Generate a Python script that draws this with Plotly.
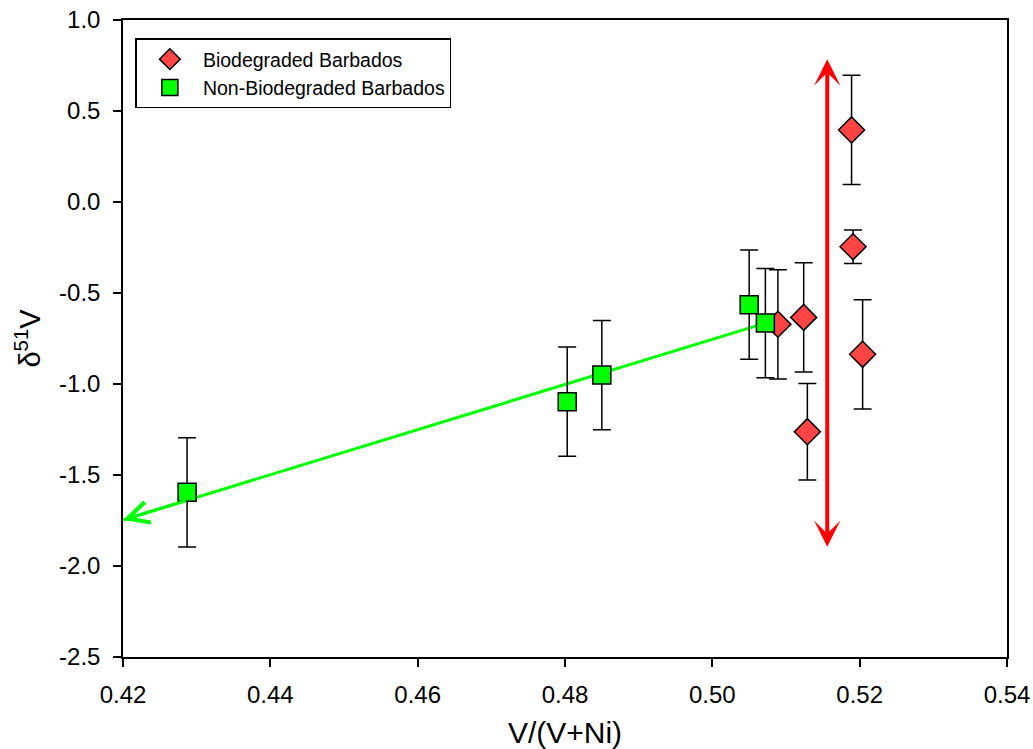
import plotly.graph_objects as go

# ---- data ----
bio_x = [0.5089, 0.5124, 0.5129, 0.5189, 0.5191, 0.5204]
bio_y = [-0.672, -0.634, -1.262, 0.396, -0.246, -0.837]
bio_err = [0.30, 0.30, 0.265, 0.30, 0.092, 0.30]

non_x = [0.4287, 0.4803, 0.4850, 0.5050, 0.5072]
non_y = [-1.595, -1.097, -0.951, -0.564, -0.665]
non_err = [0.30, 0.30, 0.30, 0.30, 0.30]

# green trend arrow (start at last green point, tip at left axis)
green_arrow_x = [0.5072, 0.4200]
green_arrow_y = [-0.665, -1.747]
# red double-headed arrow
red_arrow_x = [0.5156, 0.5156]
red_arrow_y = [0.784, -1.903]

x_ticks = [0.42, 0.44, 0.46, 0.48, 0.50, 0.52, 0.54]
x_ticktext = ["0.42", "0.44", "0.46", "0.48", "0.50", "0.52", "0.54"]
y_ticks = [1.0, 0.5, 0.0, -0.5, -1.0, -1.5, -2.0, -2.5]
y_ticktext = ["1.0", "0.5", "0.0", "-0.5", "-1.0", "-1.5", "-2.0", "-2.5"]

FONT = "Liberation Sans, Arial, sans-serif"

fig = go.Figure()

# green trend line drawn beneath the markers
fig.add_trace(go.Scatter(
    x=green_arrow_x, y=green_arrow_y, mode="lines",
    line=dict(color="#00FF00", width=3), showlegend=False, hoverinfo="skip"))

fig.add_trace(go.Scatter(
    x=bio_x, y=bio_y, mode="markers", name="Biodegraded Barbados",
    marker=dict(symbol="diamond", size=20, color="#FF4444",
                line=dict(color="black", width=1.5)),
    error_y=dict(type="data", array=bio_err, color="black", thickness=1.5, width=9)))

fig.add_trace(go.Scatter(
    x=non_x, y=non_y, mode="markers", name="Non-Biodegraded Barbados",
    marker=dict(symbol="square", size=18, color="#00FF00",
                line=dict(color="black", width=1.5)),
    error_y=dict(type="data", array=non_err, color="black", thickness=1.5, width=9)))

# arrowhead at the green line tip
dx = green_arrow_x[0] - green_arrow_x[1]
dy = green_arrow_y[0] - green_arrow_y[1]
fig.add_annotation(
    x=green_arrow_x[1], y=green_arrow_y[1],
    ax=green_arrow_x[1] + 0.1 * dx, ay=green_arrow_y[1] + 0.1 * dy,
    xref="x", yref="y", axref="x", ayref="y", text="",
    showarrow=True, arrowhead=5, arrowsize=1.4, arrowwidth=3,
    arrowcolor="#00FF00", standoff=0)

# red double arrow
fig.add_annotation(
    x=red_arrow_x[0], y=red_arrow_y[0],
    ax=red_arrow_x[1], ay=red_arrow_y[1],
    xref="x", yref="y", axref="x", ayref="y", text="",
    showarrow=True, arrowhead=3, startarrowhead=3, arrowside="end+start",
    arrowsize=1.1, startarrowsize=1.1, arrowwidth=4,
    arrowcolor="#FF0000", standoff=0, startstandoff=0)

fig.update_layout(
    width=1033, height=749,
    margin=dict(l=123, r=26, t=20, b=92, autoexpand=False),
    paper_bgcolor="white", plot_bgcolor="white",
    font=dict(family=FONT, color="black"),
    legend=dict(x=0.014, y=0.971, xanchor="left", yanchor="top",
                bgcolor="white", bordercolor="black", borderwidth=1.5,
                font=dict(size=19.5, family=FONT), tracegroupgap=0,
                itemwidth=56),
    showlegend=True,
)

fig.update_xaxes(
    range=[0.42, 0.54], tickvals=x_ticks, ticktext=x_ticktext, automargin=False,
    showgrid=False, zeroline=False, showline=True, linecolor="black", linewidth=1.5,
    mirror=True, ticks="outside", ticklen=8, tickwidth=1.5, tickcolor="black",
    tickfont=dict(size=24, family=FONT), ticklabelstandoff=7,
    ticklabeloverflow="allow",
    title=dict(text="V/(V+Ni)", font=dict(size=30, family=FONT), standoff=25))

fig.update_yaxes(
    range=[-2.5, 1.0], tickvals=y_ticks, ticktext=y_ticktext, automargin=False,
    showgrid=False, zeroline=False, showline=True, linecolor="black", linewidth=1.5,
    mirror=True, ticks="outside", ticklen=8, tickwidth=1.5, tickcolor="black",
    tickfont=dict(size=24, family=FONT), ticklabelstandoff=8,
    ticklabeloverflow="allow",
    title=dict(text="δ<sup>51</sup>V", font=dict(size=29, family=FONT), standoff=10))

# remove the browser's default 8px body margin so the figure fills the window
fig.write_html("out.html", config={"displayModeBar": False},
               post_script="document.body.style.margin='0';")
